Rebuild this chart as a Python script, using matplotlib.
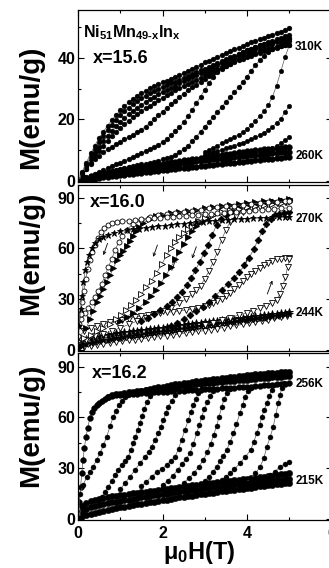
import numpy as np
import matplotlib
matplotlib.use('Agg')
import matplotlib.pyplot as plt

plt.rcParams['font.family'] = ['Liberation Sans', 'DejaVu Sans']
plt.rcParams['font.weight'] = 'bold'
plt.rcParams['mathtext.fontset'] = 'custom'
plt.rcParams['mathtext.rm'] = 'Liberation Sans:bold'
plt.rcParams['mathtext.bf'] = 'Liberation Sans:bold'
plt.rcParams['mathtext.it'] = 'Liberation Sans:bold'
plt.rcParams['mathtext.default'] = 'rm'

# field grid (T), 0.1 T steps
H10 = [0.0, 0.1, 0.2, 0.3, 0.4, 0.5, 0.6, 0.7, 0.8, 0.9, 1.0, 1.1, 1.2, 1.3, 1.4, 1.5, 1.6,
       1.7, 1.8, 1.9, 2.0, 2.1, 2.2, 2.3, 2.4, 2.5, 2.6, 2.7, 2.8, 2.9, 3.0, 3.1, 3.2, 3.3,
       3.4, 3.5, 3.6, 3.7, 3.8, 3.9, 4.0, 4.1, 4.2, 4.3, 4.4, 4.5, 4.6, 4.7, 4.8, 4.9, 5.0]

# ---------------- x = 15.6 ----------------
top_u1 = [0, 3, 6, 9, 11.5, 14, 16, 18, 19.8, 21.4, 23, 24.3, 25.5, 26.6, 27.6, 28.5, 29.3, 30.1,
          30.8, 31.4, 32, 32.6, 33.2, 33.8, 34.4, 35, 35.7, 36.4, 37.1, 37.8, 38.5, 39.1, 39.7,
          40.3, 40.9, 41.5, 42.1, 42.7, 43.3, 43.9, 44.5, 45, 45.5, 46, 46.5, 47, 47.5, 48, 48.5, 49, 49.5]
top_u2 = [0, 2.5, 5.3, 8, 10.4, 12.6, 14.6, 16.5, 18.2, 19.8, 21.3, 22.6, 23.8, 24.9, 25.9, 26.8, 27.7,
          28.5, 29.2, 29.9, 30.5, 31.1, 31.7, 32.3, 32.9, 33.5, 34.1, 34.7, 35.3, 35.9, 36.5, 37.1,
          37.7, 38.3, 38.9, 39.5, 40.1, 40.7, 41.3, 41.9, 42.5, 43, 43.5, 44, 44.5, 45, 45.5, 46, 46.5, 47, 47.5]
top_u3 = [0, 2.2, 4.6, 7, 9.2, 11.2, 13, 14.7, 16.3, 17.8, 19.2, 20.5, 21.7, 22.8, 23.8, 24.8, 25.7,
          26.6, 27.4, 28.2, 28.9, 29.6, 30.3, 31, 31.7, 32.4, 33.1, 33.8, 34.5, 35.2, 35.8, 36.4, 37,
          37.6, 38.2, 38.8, 39.4, 40, 40.6, 41.2, 41.8, 42.3, 42.8, 43.3, 43.8, 44.2, 44.6, 45, 45.4, 45.7, 46]
top_u4 = [0, 2, 4, 6, 8, 9.8, 11.5, 13.1, 14.6, 16, 17.3, 18.5, 19.6, 20.7, 21.7, 22.7, 23.6, 24.5,
          25.4, 26.2, 27, 27.8, 28.6, 29.4, 30.1, 30.8, 31.5, 32.2, 32.9, 33.6, 34.3, 35, 35.6, 36.2,
          36.8, 37.4, 38, 38.6, 39.2, 39.7, 40.2, 40.7, 41.2, 41.7, 42.1, 42.5, 42.9, 43.3, 43.7, 44, 44.3]
top_l1 = [0, 2, 4, 5.6, 7, 8.2, 9.3, 10.3, 11.2, 12, 12.8, 13.6, 14.3, 15, 15.8, 16.7, 17.7, 18.8,
          20, 21.3, 22.5, 23.7, 24.9, 26.1, 27.3, 28.4, 29.4, 30.4, 31.3, 32.2, 33.1, 34, 34.9, 35.7,
          36.5, 37.3, 38.1, 38.8, 39.5, 40.1, 40.7, 41.2, 41.7, 42.1, 42.5, 42.9, 43.2, 43.5, 43.8, 44.1, 44.3]
top_a = [0, 0.6, 1.2, 1.8, 2.4, 3, 3.6, 4.2, 4.8, 5.4, 6, 6.6, 7.2, 7.8, 8.5, 9.1, 9.7, 10.4, 11.1,
         11.8, 12.6, 13.6, 14.8, 16.1, 17.5, 19.1, 21, 23, 25.2, 27.4, 29.6, 31.8, 33.8, 35.5, 37,
         38.3, 39.4, 40.3, 41.1, 41.8, 42.4, 43, 43.5, 44, 44.4, 44.8, 45.2, 45.5, 45.8, 46.1, 46.4]
top_b = [0, 0.5, 1, 1.4, 1.8, 2.2, 2.6, 3, 3.3, 3.6, 3.9, 4.2, 4.5, 4.8, 5.1, 5.4, 5.7, 6, 6.3, 6.6,
         7, 7.4, 7.9, 8.5, 9.3, 10.3, 11.5, 12.9, 14.4, 16, 17.6, 19.2, 20.8, 22.4, 24, 25.6, 27.2,
         28.8, 30.4, 32.1, 33.9, 35.8, 37.6, 39.2, 40.6, 41.8, 42.8, 43.6, 44.3, 44.9, 45.4]
top_lb1 = [0, 0.6, 1.1, 1.5, 1.9, 2.2, 2.5, 2.8, 3.1, 3.4, 3.7, 3.9, 4.1, 4.3, 4.5, 4.7, 4.9, 5.1,
           5.3, 5.5, 5.7, 5.9, 6.1, 6.3, 6.5, 6.7, 6.9, 7.1, 7.3, 7.5, 7.7, 7.9, 8.1, 8.3, 8.5, 8.7,
           8.9, 9.1, 9.3, 9.5, 9.7, 9.8, 10, 10.1, 10.3, 10.4, 10.5, 10.6, 10.8, 10.9, 11]
top_lb2 = [0, 0.4, 0.8, 1.1, 1.4, 1.7, 2, 2.2, 2.4, 2.6, 2.8, 3, 3.2, 3.4, 3.6, 3.8, 4, 4.2, 4.4,
           4.6, 4.8, 5, 5.2, 5.4, 5.6, 5.8, 6, 6.2, 6.4, 6.5, 6.7, 6.9, 7, 7.2, 7.3, 7.5, 7.6, 7.8,
           7.9, 8.1, 8.2, 8.4, 8.5, 8.6, 8.8, 8.9, 9, 9.1, 9.3, 9.4, 9.5]
top_lb3 = [0, 0.2, 0.4, 0.6, 0.8, 1, 1.2, 1.4, 1.5, 1.7, 1.9, 2, 2.2, 2.4, 2.5, 2.7, 2.9, 3, 3.2,
           3.4, 3.5, 3.7, 3.8, 4, 4.1, 4.3, 4.4, 4.6, 4.7, 4.9, 5, 5.2, 5.3, 5.5, 5.6, 5.8, 5.9, 6,
           6.2, 6.3, 6.5, 6.6, 6.7, 6.9, 7, 7.2, 7.3, 7.4, 7.6, 7.7, 7.9]
top_c_h = [3.0, 3.1, 3.2, 3.3, 3.4, 3.5, 3.6, 3.7, 3.8, 3.9, 4.0, 4.1, 4.2, 4.3, 4.4, 4.5, 4.6, 4.7, 4.8, 4.9, 5.0]
top_c_m = [9.5, 10.1, 10.8, 11.5, 12.2, 12.9, 13.6, 14.3, 15.1, 15.9, 16.9, 18.2, 19.6, 21, 22.6,
           24.6, 27.3, 31, 35.6, 40.2, 44]
top_d_m = [8.6, 9, 9.4, 9.8, 10.2, 10.6, 11, 11.5, 12, 12.5, 13, 13.6, 14.2, 14.9, 15.7, 16.6,
           17.6, 18.8, 20.3, 22.3, 24.5]
top_e_h = [3.5, 3.6, 3.7, 3.8, 3.9, 4.0, 4.1, 4.2, 4.3, 4.4, 4.5, 4.6, 4.7, 4.8, 4.9, 5.0]
top_e_m = [7.6, 7.8, 8, 8.3, 8.6, 8.9, 9.2, 9.5, 9.8, 10.1, 10.4, 10.8, 11.4, 12.2, 13.2, 14.4]

# ---------------- x = 16.0 ----------------
mid_star_h = [0, 0.03, 0.06, 0.09, 0.13, 0.17, 0.21, 0.26, 0.32, 0.4, 0.5, 0.6, 0.7, 0.85, 1.0,
              1.15, 1.3, 1.45, 1.6, 1.75, 1.9, 2.05, 2.2, 2.35, 2.5, 2.65, 2.8, 2.95, 3.1, 3.25,
              3.4, 3.55, 3.7, 3.85, 4.0, 4.15, 4.3, 4.45, 4.6, 4.75, 4.9, 5.0]
mid_star_m = [3, 14, 24, 32, 40, 47, 52, 56, 60, 63, 65.5, 67, 68, 69, 70, 70.6, 71.2, 71.7, 72.2,
              72.7, 73.1, 73.5, 73.9, 74.3, 74.7, 75.1, 75.5, 75.8, 76.1, 76.4, 76.7, 77, 77.2,
              77.4, 77.6, 77.8, 78, 78.2, 78.3, 78.4, 78.5, 78.6]
mid_o1_h = [0, 0.03, 0.06, 0.1, 0.14, 0.18, 0.23, 0.28, 0.34, 0.4, 0.47, 0.54, 0.62, 0.7, 0.8,
            0.92, 1.05, 1.2, 1.35, 1.5, 1.65, 1.8, 1.95, 2.1, 2.25, 2.4, 2.55, 2.7, 2.85, 3.0,
            3.15, 3.3, 3.45, 3.6, 3.75, 3.9, 4.05, 4.2, 4.35, 4.5, 4.65, 4.8, 5.0]
mid_o1_m = [8, 15, 21, 28, 35, 42, 48, 53, 58, 62, 66, 69.5, 72, 74, 75.2, 75.7, 76, 76.4, 76.8,
            77.1, 77.4, 77.7, 78, 78.3, 78.6, 78.9, 79.2, 79.5, 79.8, 80.1, 80.4, 80.7, 81, 81.3,
            81.6, 81.9, 82.2, 82.5, 82.8, 83.1, 83.4, 83.7, 84]
mid_p2f_h = [0.2, 0.28, 0.36, 0.44, 0.52, 0.6, 0.68, 0.76, 0.84, 0.92, 1.0, 1.07, 1.15, 1.22, 1.3,
             1.37, 1.45, 1.55, 1.7, 1.85, 2.0, 2.2, 2.4, 2.6, 2.8, 3.0, 3.2, 3.4, 3.6, 3.8, 4.0,
             4.2, 4.4, 4.6, 4.8, 5.0]
mid_p2f_m = [13, 18, 23, 28, 32, 36, 40, 44, 48.5, 53, 56, 58.5, 61.5, 64.5, 67.5, 70, 72.5, 75,
             77.5, 79, 80, 80.8, 81.5, 82.2, 82.9, 83.6, 84.3, 85, 85.7, 86.3, 86.9, 87.4, 87.9,
             88.3, 88.7, 89]
mid_p2o_h = [0, 0.08, 0.16, 0.24, 0.32, 0.4, 0.48, 0.56, 0.64, 0.72, 0.8, 0.88, 0.96, 1.05, 1.15,
             1.3, 1.5, 1.7, 1.9, 2.1, 2.3, 2.5, 2.7, 2.9, 3.1, 3.3, 3.5, 3.7, 3.9, 4.1, 4.3, 4.5,
             4.7, 4.9, 5.0]
mid_p2o_m = [14, 18, 21.5, 25, 28, 31.5, 35, 39, 44, 49, 54, 59, 63.5, 67.5, 71, 74.5, 77, 78.5,
             79.5, 80.3, 81, 81.7, 82.4, 83, 83.6, 84.2, 84.8, 85.3, 85.8, 86.3, 86.8, 87.2, 87.6,
             88, 88.2]
mid_p3o_h = [0, 0.15, 0.3, 0.45, 0.6, 0.75, 0.9, 1.02, 1.14, 1.26, 1.38, 1.5, 1.62, 1.74, 1.86,
             1.98, 2.1, 2.2, 2.3, 2.4, 2.5, 2.6, 2.7, 2.85, 3.0, 3.2, 3.4, 3.6, 3.8, 4.0, 4.2, 4.4,
             4.6, 4.8, 5.0]
mid_p3o_m = [5, 7, 9, 11, 13, 15.5, 18, 20.5, 23.5, 26.5, 29.5, 33, 37, 41, 45.5, 50.5, 56, 60,
             63.5, 66.5, 69, 71.5, 73.5, 76, 78, 80, 81.5, 82.6, 83.5, 84.3, 85, 85.6, 86.2, 86.7, 87.2]
mid_p3f_h = [1.0, 1.15, 1.3, 1.45, 1.6, 1.72, 1.84, 1.96, 2.08, 2.2, 2.3, 2.4, 2.5, 2.6, 2.7, 2.8,
             2.9, 3.05, 3.2, 3.4, 3.6, 3.8, 4.0, 4.2, 4.4, 4.6, 4.8, 5.0]
mid_p3f_m = [17, 19.5, 22, 25, 28.5, 32, 35.5, 39.5, 44, 49, 53.5, 58, 62.5, 66.5, 70, 73, 75.5,
             78, 80, 81.5, 82.8, 83.8, 84.7, 85.5, 86.2, 86.8, 87.4, 88]
mid_p4f_h = [1.5, 1.65, 1.8, 1.95, 2.1, 2.22, 2.34, 2.46, 2.58, 2.68, 2.78, 2.88, 2.98, 3.08, 3.18,
             3.28, 3.38, 3.5, 3.65, 3.8, 4.0, 4.2, 4.4, 4.6, 4.8, 5.0]
mid_p4f_m = [17, 19, 21, 23.5, 26, 28.5, 31.5, 34.5, 38.5, 42.5, 47, 52, 57, 62, 68, 74, 77.5, 80,
             82, 83.3, 84.6, 85.7, 86.6, 87.4, 88.1, 88.7]
mid_p4o_h = [0, 0.2, 0.4, 0.6, 0.8, 1.0, 1.2, 1.4, 1.6, 1.8, 2.0, 2.2, 2.4, 2.55, 2.7, 2.8, 2.9,
             3.0, 3.1, 3.2, 3.3, 3.4, 3.5, 3.6, 3.75, 3.9, 4.1, 4.3, 4.5, 4.7, 4.9, 5.0]
mid_p4o_m = [4, 6, 8, 9.5, 11, 13, 15, 17, 19, 21, 23, 25, 27.5, 30, 33, 35.5, 38, 42, 46.5, 52,
             58, 65, 71, 75.5, 79, 81.5, 83.3, 84.7, 85.8, 86.7, 87.5, 87.8]
mid_p5f_h = [2.2, 2.35, 2.5, 2.65, 2.8, 2.95, 3.1, 3.25, 3.4, 3.55, 3.7, 3.82, 3.94, 4.05, 4.16,
             4.26, 4.36, 4.46, 4.56, 4.66, 4.76, 4.88, 5.0]
mid_p5f_m = [14, 16, 18, 20.5, 23, 25.5, 28.5, 32, 35.5, 39, 42.5, 46, 50, 54.5, 59.5, 65, 70,
             74.5, 77.5, 79.5, 80.5, 81.2, 81.8]
mid_loop_up_h = [3.0, 3.2, 3.4, 3.6, 3.8, 4.0, 4.15, 4.3, 4.45, 4.58, 4.7, 4.78, 4.85, 4.91, 4.96, 5.0]
mid_loop_up_m = [14.5, 16, 17.5, 19, 20.5, 22, 23.2, 24.5, 26, 27.5, 29.5, 33, 38, 43, 49, 54]
mid_loop_dn_h = [5.0, 4.9, 4.8, 4.7, 4.6, 4.5, 4.4, 4.3, 4.2, 4.1, 4.0, 3.9, 3.8, 3.7, 3.6, 3.5,
                 3.4, 3.3, 3.2, 3.1, 3.0, 2.85, 2.7, 2.55, 2.4, 2.25, 2.1, 1.95, 1.8, 1.65, 1.5,
                 1.35, 1.2, 1.05, 0.9, 0.75, 0.6, 0.45, 0.3, 0.15, 0]
mid_loop_dn_m = [54.3, 54.2, 54, 53.6, 52.6, 51.4, 50, 48.5, 46.8, 44.9, 42.8, 40.5, 38.2, 35.8,
                 33.6, 31.7, 30.1, 28.8, 27.7, 26.8, 26, 25, 24.2, 23.6, 23.1, 22.6, 22.1, 21.6,
                 21.1, 20.5, 19.9, 19.2, 18.5, 17.8, 17, 16.2, 15.3, 14.3, 13, 11.2, 7]
mid_lb1 = [3, 5, 6.2, 7, 7.6, 8.1, 8.6, 9, 9.4, 9.8, 10.2, 10.5, 10.8, 11.1, 11.4, 11.7, 12, 12.3,
           12.6, 12.9, 13.2, 13.5, 13.8, 14.1, 14.4, 14.7, 15, 15.3, 15.6, 15.9, 16.2, 16.5, 16.8,
           17.1, 17.4, 17.7, 18, 18.3, 18.6, 18.9, 19.2, 19.5, 19.8, 20.1, 20.4, 20.7, 21, 21.3,
           21.6, 21.9, 22.2]
mid_lb2 = [1.5, 2.5, 3.3, 4, 4.6, 5.1, 5.6, 6, 6.4, 6.8, 7.2, 7.6, 7.9, 8.3, 8.6, 9, 9.3, 9.7, 10,
           10.4, 10.7, 11.1, 11.4, 11.8, 12.1, 12.5, 12.8, 13.2, 13.5, 13.9, 14.2, 14.6, 14.9, 15.3,
           15.6, 16, 16.3, 16.7, 17, 17.4, 17.7, 18.1, 18.4, 18.8, 19.1, 19.5, 19.8, 20.2, 20.5,
           20.9, 21.2]
mid_lb3_h = [0, 0.15, 0.3, 0.45, 0.6, 0.75, 0.9, 1.05, 1.2, 1.35, 1.5, 1.65, 1.8, 1.95, 2.1, 2.25,
             2.4, 2.55, 2.7, 2.85, 3.0, 3.15, 3.3, 3.45, 3.6, 3.75, 3.9, 4.05, 4.2, 4.35, 4.5,
             4.65, 4.8, 4.95]
mid_lb3_m = [1, 1.8, 2.5, 3.1, 3.7, 4.2, 4.7, 5.2, 5.6, 6, 6.4, 6.9, 7.4, 7.9, 8.4, 8.9, 9.4,
             9.9, 10.4, 10.9, 11.4, 12, 12.6, 13.2, 13.8, 14.4, 15, 15.7, 16.4, 17.1, 17.8, 18.6,
             19.4, 20.2]

# ---------------- x = 16.2 ----------------
bot_t1_h = [0, 0.03, 0.06, 0.09, 0.12, 0.15, 0.19, 0.23, 0.28, 0.33, 0.38, 0.44, 0.5, 0.57, 0.64,
            0.72, 0.8, 0.9] + H10[10:]
bot_t1_m = [0, 10, 19, 27, 35, 42, 48.6, 54, 59.5, 63, 65.5, 67.4, 68.8, 70, 71, 71.8, 72.4, 73,
            73.3, 73.5, 73.7, 73.9, 74.1, 74.3, 74.5, 74.6, 74.8, 74.9, 75.1, 75.2, 75.4, 75.5,
            75.7, 75.8, 76, 76.1, 76.3, 76.4, 76.6, 76.7, 76.9, 77, 77.2, 77.3, 77.5, 77.6, 77.8,
            77.9, 78.1, 78.3, 78.5, 78.7, 78.9, 79.1, 79.3, 79.5, 79.7, 79.9, 80.1]
bot_t2_m = [72.3, 73, 73.6, 74.1, 74.5, 74.9, 75.3, 75.6, 75.9, 76.2, 76.5, 76.8, 77.1, 77.4, 77.7,
            78, 78.3, 78.5, 78.8, 79.1, 79.3, 79.6, 79.8, 80.1, 80.3, 80.6, 80.8, 81, 81.3, 81.5,
            81.7, 82, 82.2, 82.4, 82.6, 82.8, 83.1, 83.3, 83.5, 83.7, 83.9, 84.1, 84.3, 84.5]
bot_t3_m = [75.8, 76.3, 76.8, 77.3, 77.8, 78.3, 78.7, 79.1, 79.5, 79.9, 80.3, 80.6, 81, 81.3, 81.7,
            82, 82.3, 82.6, 82.9, 83.2, 83.5, 83.8, 84.1, 84.3, 84.6, 84.9, 85.1, 85.4, 85.6, 85.8,
            86.1, 86.3, 86.5, 86.7, 86.9, 87.1]
bot_b_h = [0, 0.05, 0.12, 0.21, 0.29, 0.36, 0.44, 0.52, 0.6, 0.68, 0.76, 0.83, 0.9, 0.97, 1.04, 1.11, 1.18, 1.26]
bot_b_m = [0, 15, 20, 25, 28, 31, 35, 38.8, 43.5, 48.6, 55, 60, 64, 67.5, 70, 72, 73.5, 74.5]
bot_c_h = [0.48, 0.56, 0.64, 0.72, 0.8, 0.88, 0.95, 1.03, 1.11, 1.19, 1.25, 1.31, 1.36, 1.41, 1.47,
           1.52, 1.57, 1.63, 1.7, 1.78]
bot_c_m = [11, 13.2, 16, 19.1, 22.5, 26, 29, 32, 34.5, 36.8, 40.5, 44.7, 48.5, 52.6, 57, 61, 65,
           69, 72.5, 75]
bot_d_h = [1.0, 1.11, 1.23, 1.35, 1.47, 1.59, 1.67, 1.74, 1.82, 1.9, 1.96, 2.02, 2.08, 2.14, 2.22, 2.3, 2.38]
bot_d_m = [17.5, 21.1, 25, 29, 33, 36.8, 39.5, 42.7, 46.5, 50.6, 54.5, 58.5, 62.5, 66.4, 70, 73.3, 76]
bot_e_h = [1.5, 1.62, 1.74, 1.86, 1.98, 2.1, 2.2, 2.3, 2.38, 2.45, 2.53, 2.61, 2.67, 2.73, 2.79, 2.85, 2.93]
bot_e_m = [19.5, 22, 25, 27.5, 29.5, 32, 34.5, 36.8, 41.5, 46.7, 52.5, 58.5, 63, 67.4, 71, 74.3, 77]
bot_f_h = [2.0, 2.12, 2.24, 2.36, 2.46, 2.56, 2.65, 2.73, 2.81, 2.87, 2.93, 2.99, 3.06, 3.13, 3.2]
bot_f_m = [20, 22.5, 25.5, 29, 32.5, 35.5, 38.8, 44.5, 50.6, 55.5, 60.5, 65, 69, 72.5, 75.5]
bot_g_h = [2.5, 2.62, 2.74, 2.86, 2.97, 3.06, 3.14, 3.21, 3.28, 3.34, 3.4, 3.46, 3.52, 3.6]
bot_g_m = [21.5, 24, 27, 31, 34.9, 39.5, 44.5, 49.5, 55, 60.5, 66, 71, 74.5, 77]
bot_h_h = [3.0, 3.1, 3.2, 3.28, 3.36, 3.44, 3.52, 3.6, 3.68, 3.75, 3.83, 3.9, 3.95, 4.02, 4.1]
bot_h_m = [22.5, 25, 28, 30.9, 34, 37.5, 40.8, 45.5, 50.6, 56, 62.4, 67.5, 72.3, 75.5, 77.5]
bot_i_h = [3.4, 3.5, 3.6, 3.7, 3.83, 3.95, 4.09, 4.16, 4.23, 4.3, 4.35, 4.41, 4.47, 4.53, 4.58, 4.65]
bot_i_m = [23, 25, 27, 29.5, 32.9, 36.5, 40.8, 45.5, 50.6, 55.5, 60.5, 64.5, 68.4, 72.5, 76.2, 79]
bot_j_h = [3.95, 4.09, 4.2, 4.31, 4.4, 4.47, 4.55, 4.62, 4.68, 4.74, 4.78, 4.82, 4.87]
bot_j_m = [22, 23.5, 27, 30.9, 36, 42.7, 48.5, 54.5, 61.5, 68.4, 73, 77.2, 80.5]
bot_k_h = [4.3, 4.42, 4.54, 4.66, 4.78, 4.9, 5.0]
bot_k_m = [24, 25, 26, 28, 30.9, 32.5, 33.9]
bot_l1 = [0, 7.5, 9.5, 10.7, 11.5, 12.1, 12.6, 13, 13.4, 13.7, 14, 14.4, 14.7, 15.1, 15.4, 15.8,
          16.1, 16.5, 16.8, 17.2, 17.5, 17.8, 18.2, 18.5, 18.8, 19.2, 19.5, 19.8, 20.2, 20.5, 20.8,
          21.1, 21.4, 21.7, 22, 22.3, 22.6, 22.9, 23.2, 23.5, 23.8, 24.1, 24.4, 24.8, 25.1, 25.4,
          25.7, 26, 26.3, 26.7, 27]
bot_l2 = [0, 4.5, 6, 7, 7.8, 8.5, 9, 9.5, 9.9, 10.3, 10.7, 11.1, 11.5, 11.9, 12.3, 12.7, 13.1, 13.5,
          13.9, 14.3, 14.6, 15, 15.4, 15.7, 16.1, 16.4, 16.8, 17.1, 17.4, 17.8, 18.1, 18.4, 18.7,
          19, 19.3, 19.6, 19.9, 20.2, 20.5, 20.8, 21, 21.3, 21.6, 21.9, 22.1, 22.4, 22.7, 23, 23.2,
          23.5, 23.8]
bot_l3 = [0, 1.5, 2.5, 3.2, 3.8, 4.3, 4.8, 5.3, 5.8, 6.3, 6.8, 7.2, 7.7, 8.1, 8.6, 9, 9.4, 9.9,
          10.3, 10.7, 11.1, 11.5, 11.9, 12.3, 12.7, 13.1, 13.5, 13.8, 14.2, 14.6, 14.9, 15.3, 15.6,
          16, 16.3, 16.7, 17, 17.3, 17.7, 18, 18.3, 18.6, 18.9, 19.2, 19.5, 19.8, 20.1, 20.4, 20.7,
          21, 21.3]

fig = plt.figure(figsize=(3.29, 5.68), dpi=100)
W = 253.5 / 329
ax1 = fig.add_axes([78 / 329, (568 - 182) / 568, W, 172 / 568])
ax2 = fig.add_axes([78 / 329, (568 - 350.5) / 568, W, 165.5 / 568])
ax3 = fig.add_axes([78 / 329, (568 - 520) / 568, W, 167 / 568])

LC = '0.35'


def dots(ax, h, m, ms=3.3):
    ax.plot(h, m, 'o', ls='-', color=LC, lw=0.5, mfc='k', mec='k', ms=ms, mew=0.3)


def sym(ax, h, m, mk, filled, ms=3.8):
    ax.plot(h, m, marker=mk, ls='-', color=LC, lw=0.5, mfc='k' if filled else 'white',
            mec='k', ms=ms, mew=0.6)


# top panel
for m in [top_lb3, top_lb2, top_lb1]:
    dots(ax1, H10, m, 4.2)
for m in [top_b, top_a, top_l1, top_u4, top_u3, top_u2, top_u1]:
    dots(ax1, H10, m, 3.5)
dots(ax1, top_c_h, top_c_m)
dots(ax1, top_c_h, top_d_m)
dots(ax1, top_e_h, top_e_m)

# middle panel
sym(ax2, mid_lb3_h, mid_lb3_m, 'v', False)
sym(ax2, H10, mid_lb2, '*', True, 5.6)
sym(ax2, H10, mid_lb1, '*', True, 5.6)
sym(ax2, mid_loop_dn_h, mid_loop_dn_m, 'v', False)
sym(ax2, mid_loop_up_h, mid_loop_up_m, 'v', False)
sym(ax2, mid_p5f_h, mid_p5f_m, 'D', True, 3.4)
sym(ax2, mid_p4o_h, mid_p4o_m, 'v', False)
sym(ax2, mid_p4f_h, mid_p4f_m, 'D', True, 3.4)
sym(ax2, mid_p3f_h, mid_p3f_m, '>', True)
sym(ax2, mid_p3o_h, mid_p3o_m, '>', False)
sym(ax2, mid_p2f_h, mid_p2f_m, '>', True)
sym(ax2, mid_p2o_h, mid_p2o_m, 'o', False, 3.6)
sym(ax2, mid_o1_h, mid_o1_m, 'o', False, 3.6)
sym(ax2, mid_star_h, mid_star_m, '*', True, 5)

arrows = [((0.70, 63), (0.60, 56)), ((1.88, 62), (1.78, 55)), ((2.22, 47), (2.32, 54)),
          ((2.80, 61), (2.70, 54)), ((4.02, 55), (3.92, 48)), ((4.48, 33), (4.60, 41))]
for (x0, y0), (x1, y1) in arrows:
    ax2.annotate('', xy=(x1, y1), xytext=(x0, y0),
                 arrowprops=dict(arrowstyle='->', lw=0.6, color='k', shrinkA=0, shrinkB=0,
                                 mutation_scale=5))

# bottom panel
for m in [bot_l3, bot_l2, bot_l1]:
    dots(ax3, H10, m, 4.6)
dots(ax3, bot_t1_h, bot_t1_m, 4.2)
dots(ax3, H10[7:], bot_t2_m, 4.6)
dots(ax3, H10[15:], bot_t3_m, 4.6)
for h, m in [(bot_b_h, bot_b_m), (bot_c_h, bot_c_m), (bot_d_h, bot_d_m), (bot_e_h, bot_e_m),
             (bot_f_h, bot_f_m), (bot_g_h, bot_g_m), (bot_h_h, bot_h_m), (bot_i_h, bot_i_m),
             (bot_j_h, bot_j_m), (bot_k_h, bot_k_m)]:
    dots(ax3, h, m, 3.6)

ax1.set_ylim(-0.3, 55.5)
ax2.set_ylim(-0.4, 97.5)
ax3.set_ylim(-0.6, 98.1)
for ax in (ax1, ax2, ax3):
    ax.set_xlim(0, 6)
    ax.set_xticks([0, 2, 4, 6])
    ax.set_xticks([1, 3, 5], minor=True)
    ax.tick_params(which='both', direction='in', top=True, right=True, width=0.8,
                   labelsize=11.5, pad=2)
    ax.tick_params(which='major', length=4)
    ax.tick_params(which='minor', length=2.5)
    for s in ax.spines.values():
        s.set_linewidth(0.9)
ax1.set_yticks([0, 20, 40])
ax1.set_yticks([10, 30, 50], minor=True)
for ax in (ax2, ax3):
    ax.set_yticks([0, 30, 60, 90])
    ax.set_yticks([15, 45, 75], minor=True)
ax1.tick_params(labelbottom=False)
ax2.tick_params(labelbottom=False)
ax3.tick_params(axis='x', pad=4)

ax1.text(0.02, 0.843, r'Ni$_{51}$Mn$_{49\text{-}x}$In$_{x}$', transform=ax1.transAxes,
         fontsize=11.5, fontweight='bold', va='baseline')
ax1.text(0.06, 0.692, 'x=15.6', transform=ax1.transAxes, fontsize=13, fontweight='bold', va='baseline')
ax2.text(0.047, 0.867, 'x=16.0', transform=ax2.transAxes, fontsize=13, fontweight='bold', va='baseline')
ax3.text(0.055, 0.85, 'x=16.2', transform=ax3.transAxes, fontsize=13, fontweight='bold', va='baseline')

for ax, y, s in [(ax1, 43.5, '310K'), (ax1, 8.1, '260K'), (ax2, 77.5, '270K'), (ax2, 21.9, '244K'),
                 (ax3, 79.8, '256K'), (ax3, 22.5, '215K')]:
    ax.text(5.14, y, s, fontsize=8.5, fontweight='bold', va='center', ha='left')

for yc in [107, 253.5, 425]:
    fig.text(31 / 329, 1 - yc / 568, 'M(emu/g)', rotation=90, fontsize=20, fontweight='bold',
             ha='center', va='center')
fig.text(199 / 329, (568 - 559) / 568, r'μ$_{0}$H(T)', fontsize=17, fontweight='bold',
         ha='center', va='baseline')

fig.savefig('out.png', dpi=100)
